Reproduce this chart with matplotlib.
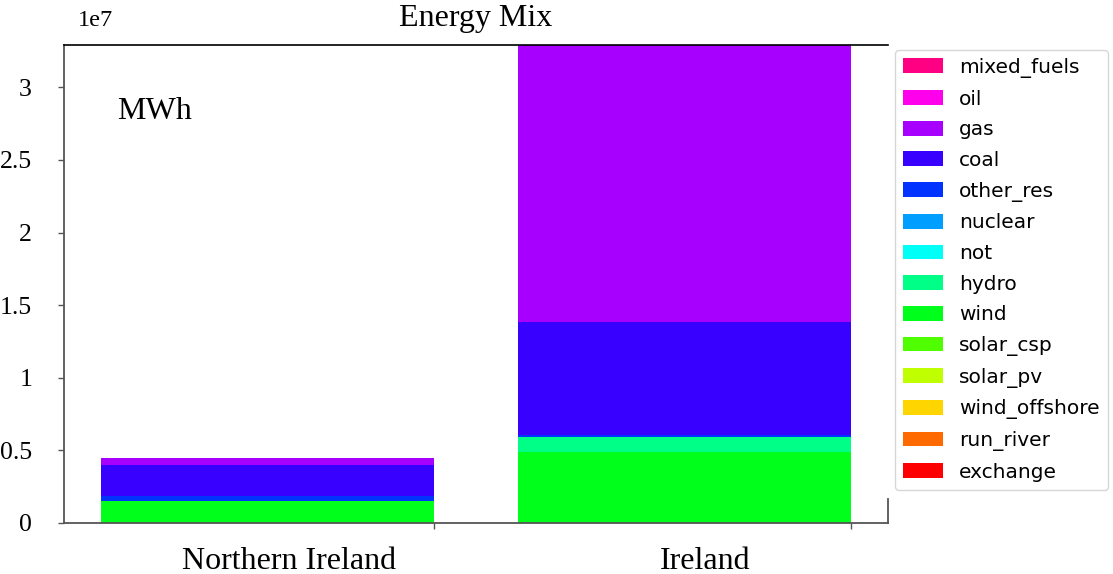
import numpy as np
import matplotlib.pyplot as plt
from matplotlib.ticker import FuncFormatter

regions = ['Northern Ireland', 'Ireland']

# stacking order, bottom to top
sources = ['exchange', 'run_river', 'wind_offshore', 'solar_pv', 'solar_csp',
           'wind', 'hydro', 'not', 'nuclear', 'other_res', 'coal', 'gas',
           'oil', 'mixed_fuels']

# MWh per source: [Northern Ireland, Ireland]
exchange = [0, 0]
run_river = [0, 0]
wind_offshore = [0, 0]
solar_pv = [0, 0]
solar_csp = [0, 0]
wind = [1.52e6, 4.92e6]
hydro = [0, 0.97e6]
not_ = [0, 0]
nuclear = [0, 0]
other_res = [0.32e6, 0.19e6]
coal = [2.16e6, 7.79e6]
gas = [0.46e6, 19.05e6]
oil = [0, 0]
mixed_fuels = [0, 0]

values = [exchange, run_river, wind_offshore, solar_pv, solar_csp, wind, hydro,
          not_, nuclear, other_res, coal, gas, oil, mixed_fuels]

colors = plt.cm.hsv(np.arange(len(sources)) / len(sources))

plt.rcParams['font.family'] = ['Liberation Serif', 'DejaVu Serif']

fig = plt.figure(figsize=(11.13, 5.74), dpi=100)
ax = fig.add_axes([0.0575, 0.0889, 0.7404, 0.8327])

x = np.arange(len(regions))
bottom = np.zeros(len(regions))
for name, vals, c in zip(sources, values, colors):
    vals = np.array(vals, dtype=float)
    ax.bar(x, vals, width=-0.8, align='edge', bottom=bottom, color=c, label=name)
    bottom += vals

ax.set_ylim(0, bottom.max())
ax.set_xlim(-0.89, 1.09)

ax.set_xticks(x, ['', ''])
ax.set_xticks(x - 0.35, regions, minor=True)
ax.tick_params(axis='x', which='minor', length=0, pad=17, labelsize=23)

ax.set_yticks(np.arange(0, 3.01e7, 0.5e7))
ax.yaxis.set_major_formatter(FuncFormatter(lambda v, p: f'{v / 1e7:g}'))
ax.tick_params(axis='both', which='major', color='#555555', length=4, width=1)
ax.tick_params(axis='y', labelsize=18.5, pad=19)
ax.text(0.017, 1.04, '1e7', transform=ax.transAxes, fontsize=17.5,
        va='baseline')

for s in ['left', 'bottom', 'right']:
    ax.spines[s].set_color('#555555')
    ax.spines[s].set_linewidth(1.3)
ax.spines['top'].set_color('black')
ax.spines['top'].set_linewidth(1.2)
ax.spines['right'].set_bounds(0, 0.165e7)

ax.set_title('Energy Mix', fontsize=23, pad=14)
ax.text(0.065, 0.845, 'MWh', transform=ax.transAxes, fontsize=23,
        va='baseline')

handles, labels = ax.get_legend_handles_labels()
ax.legend(handles[::-1], labels[::-1], loc='upper left',
          bbox_to_anchor=(1.008, 0.99), borderaxespad=0,
          prop={'family': 'DejaVu Sans', 'size': 14.5},
          labelspacing=0.58, handleheight=0.75)

fig.savefig('out.png', dpi=100)
